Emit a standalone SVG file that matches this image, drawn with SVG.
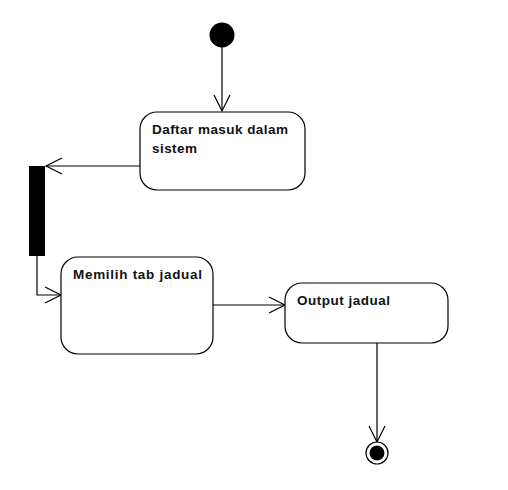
<svg xmlns="http://www.w3.org/2000/svg" width="508" height="490" viewBox="0 0 508 490">
<defs>
<style>
.node{fill:#fff;stroke:#000;stroke-width:1.2}
.lbl{font-family:"Liberation Sans",Arial,sans-serif;font-weight:bold;font-size:13.5px;fill:#111}
.edge{fill:none;stroke:#000;stroke-width:1.2}
.head{fill:none;stroke:#000;stroke-width:1.2}
</style>
<marker id="open" viewBox="0 0 20 20" refX="18" refY="10" markerWidth="20" markerHeight="20" markerUnits="userSpaceOnUse" orient="auto">
<path d="M2,2 L18,10 L2,18" class="head"/>
</marker>
</defs>
<rect width="508" height="490" fill="#fff"/>
<g id="connectors">
<line class="edge" x1="222" y1="47" x2="222" y2="111" marker-end="url(#open)"/>
<line class="edge" x1="140" y1="166" x2="46" y2="166" marker-end="url(#open)"/>
<polyline class="edge" points="37,256 37,295 61,295" marker-end="url(#open)"/>
<line class="edge" x1="213" y1="305" x2="285" y2="305" marker-end="url(#open)"/>
<line class="edge" x1="377" y1="343" x2="377" y2="442" marker-end="url(#open)"/>
</g>
<g id="start"><circle cx="222" cy="35" r="12.5" fill="#000"/></g>
<g id="daftar">
<rect class="node" x="140" y="112" width="165" height="78" rx="17"/>
<text class="lbl" x="152" y="134" textLength="136" lengthAdjust="spacing">Daftar masuk dalam</text>
<text class="lbl" x="152" y="153" textLength="45" lengthAdjust="spacing">sistem</text>
</g>
<g id="fork"><rect x="29" y="166" width="16" height="90" fill="#000"/></g>
<g id="memilih">
<rect class="node" x="61" y="257" width="152" height="97" rx="17"/>
<text class="lbl" x="73" y="279" textLength="129" lengthAdjust="spacing">Memilih tab jadual</text>
</g>
<g id="output">
<rect class="node" x="285" y="283" width="163" height="60" rx="17"/>
<text class="lbl" x="297" y="305" textLength="93" lengthAdjust="spacing">Output jadual</text>
</g>
<g id="end">
<circle cx="377" cy="453" r="11" fill="#fff" stroke="#000" stroke-width="1.2"/>
<circle cx="377" cy="453" r="7.5" fill="#000"/>
</g>
</svg>
